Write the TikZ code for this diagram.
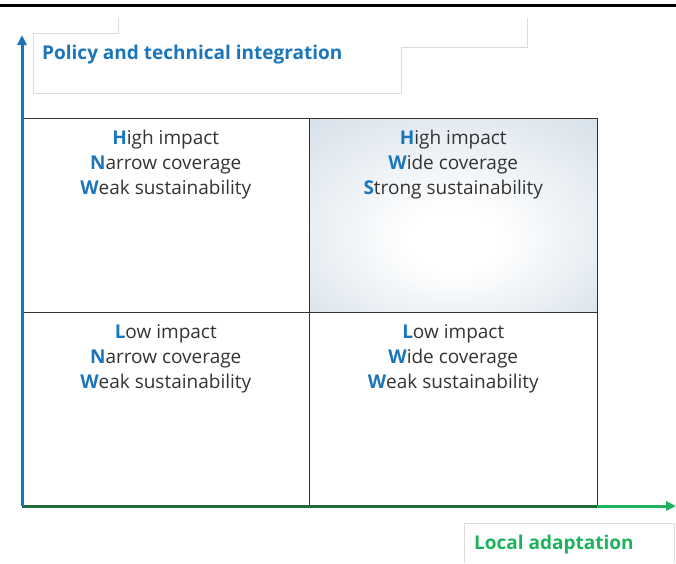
\documentclass[tikz,border=0pt]{standalone}
\usepackage{fontspec}
\setmainfont{Open Sans}
\usetikzlibrary{arrows.meta,positioning}
\definecolor{axisblue}{HTML}{1B75BB}
\definecolor{axisgreen}{HTML}{1DB35C}
\definecolor{darkgreen}{HTML}{1E6B3C}
\definecolor{boxgray}{HTML}{DCDCDC}
\definecolor{textgray}{HTML}{333333}
\definecolor{shadeblue}{HTML}{D0DCE6}
\pgfdeclareradialshading{cellglow}{\pgfpoint{0bp}{-8bp}}{color(0bp)=(white); color(8bp)=(white); color(42bp)=(shadeblue); color(50bp)=(shadeblue)}
\newcommand{\fl}[1]{\textbf{\textcolor{axisblue}{#1}}}
\tikzset{
    cell/.style={draw=textgray, line width=1pt, minimum width=287.5pt, minimum height=194pt, inner sep=0pt, outer sep=0pt},
    celltext/.style={align=center, text=textgray, font=\fontsize{19}{25}\selectfont, inner sep=0pt},
    heading/.style={font=\fontsize{19}{22}\selectfont\bfseries, inner sep=0pt, anchor=west},
}

\begin{document}
\begin{tikzpicture}[x=1pt, y=-1pt, node distance=0pt]
    \useasboundingbox (0,0) rectangle (676,563);
    \draw[line width=3pt] (0,5) -- (676,5);
    \draw[boxgray] (118,18) -- (118,33) -- (33,33) -- (33,93) -- (401,93) -- (401,47) -- (527,47) -- (527,18);
    \node[heading, text=axisblue] (ylabel) at (42,55) {Policy and technical integration};
    \node[cell] (hl) at (165.75,215) {};
    \node[cell, right=of hl, shading=cellglow] (hr) {};
    \node[cell, below=of hl] (ll) {};
    \node[cell, below=of hr] (lr) {};
    \node[celltext, below=12pt of hl.north] (hltext) {\fl{H}igh impact\\\fl{N}arrow coverage\\\fl{W}eak sustainability};
    \node[celltext, below=12pt of hr.north] (hrtext) {\fl{H}igh impact\\\fl{W}ide coverage\\\fl{S}trong sustainability};
    \node[celltext, below=12pt of ll.north] (lltext) {\fl{L}ow impact\\\fl{N}arrow coverage\\\fl{W}eak sustainability};
    \node[celltext, below=12pt of lr.north] (lrtext) {\fl{L}ow impact\\\fl{W}ide coverage\\\fl{W}eak sustainability};
    \coordinate (origin) at (22,506);
    \coordinate (ytip) at (22,35);
    \coordinate (xtip) at (676,506);
    \draw[axisgreen, line width=3pt, -{Triangle[length=10pt,width=9pt]}] (origin) -- (xtip);
    \draw[darkgreen, line width=3pt] (origin) -- (lr.south east);
    \draw[axisblue, line width=3pt, -{Triangle[length=10pt,width=9pt]}] (origin) -- (ytip);
    \draw[boxgray] (464,563) -- (464,523) -- (674,523) -- (674,563);
    \node[heading, text=axisgreen] (xlabel) at (474,545) {Local adaptation};
\end{tikzpicture}
\end{document}
